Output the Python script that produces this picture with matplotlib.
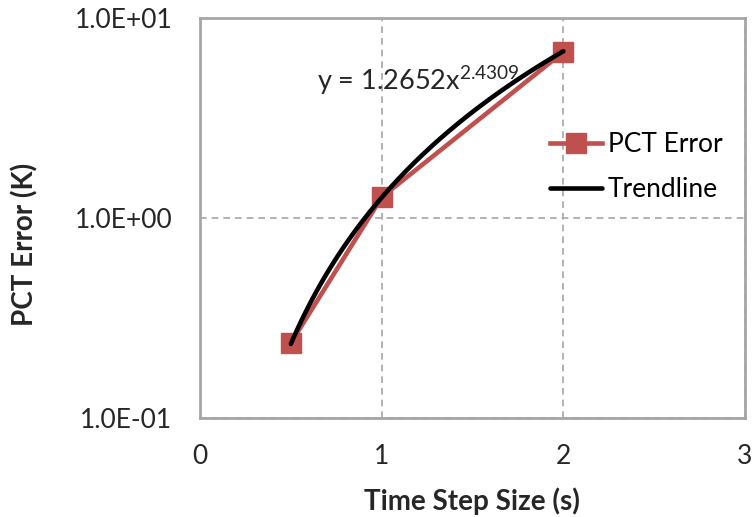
import numpy as np
import matplotlib
matplotlib.use('Agg')
import matplotlib.pyplot as plt

# data
step_sizes = [0.5, 1.0, 2.0]
pct_error = [0.237, 1.27, 6.76]
fit_coef = 1.2652
fit_exp = 2.4309

plt.rcParams['font.family'] = ['Lato', 'DejaVu Sans']
plt.rcParams['mathtext.fontset'] = 'custom'
plt.rcParams['mathtext.rm'] = 'Lato'

red = '#C0504D'
grey = '#A6A6A6'
txt = '#262626'

fig = plt.figure(figsize=(7.53, 5.17), dpi=100)
ax = fig.add_axes([200 / 753, 1 - 418 / 517, 545 / 753, 400 / 517])

ax.plot(step_sizes, pct_error, color=red, lw=3.3, marker='s', ms=14,
        label='PCT Error', zorder=3)

# power-law trendline from the displayed equation
xt = np.linspace(step_sizes[0], step_sizes[-1], 100)
ax.plot(xt, fit_coef * xt ** fit_exp, color='black', lw=3.3,
        solid_capstyle='round', label='Trendline', zorder=4)

ax.set_yscale('log')
ax.set_xlim(0, 3)
ax.set_ylim(0.1, 10)
ax.set_xticks([0, 1, 2, 3])
ax.set_yticks([0.1, 1, 10])
ax.set_yticklabels(['1.0E-01', '1.0E+00', '1.0E+01'])
ax.minorticks_off()
ax.tick_params(length=0, labelsize=19, colors=txt)
ax.tick_params(axis='x', pad=19)
ax.tick_params(axis='y', pad=20)

ax.grid(True, color=grey, ls=(0, (4, 3)), lw=1.2)
for s in ax.spines.values():
    s.set_color(grey)
    s.set_linewidth(2)

ax.set_xlabel('Time Step Size (s)', fontsize=20, fontweight='bold', color=txt)
ax.set_ylabel('PCT Error (K)', fontsize=20, fontweight='bold', color=txt)
ax.xaxis.set_label_coords((472 - 200) / 545, (418 - 487) / 400)
ax.yaxis.set_label_coords((38 - 200) / 545, (418 - 244) / 400)

ax.text(0.644, 4.37, r'y = 1.2652x$^{\mathrm{2.4309}}$', fontsize=19.5,
        color=txt, va='baseline')

ax.legend(loc='center left', bbox_to_anchor=(0.598, 0.627), frameon=False,
          fontsize=19, handlelength=2.0, handletextpad=0.2, labelspacing=0.75)

fig.savefig('out.png', dpi=100)
